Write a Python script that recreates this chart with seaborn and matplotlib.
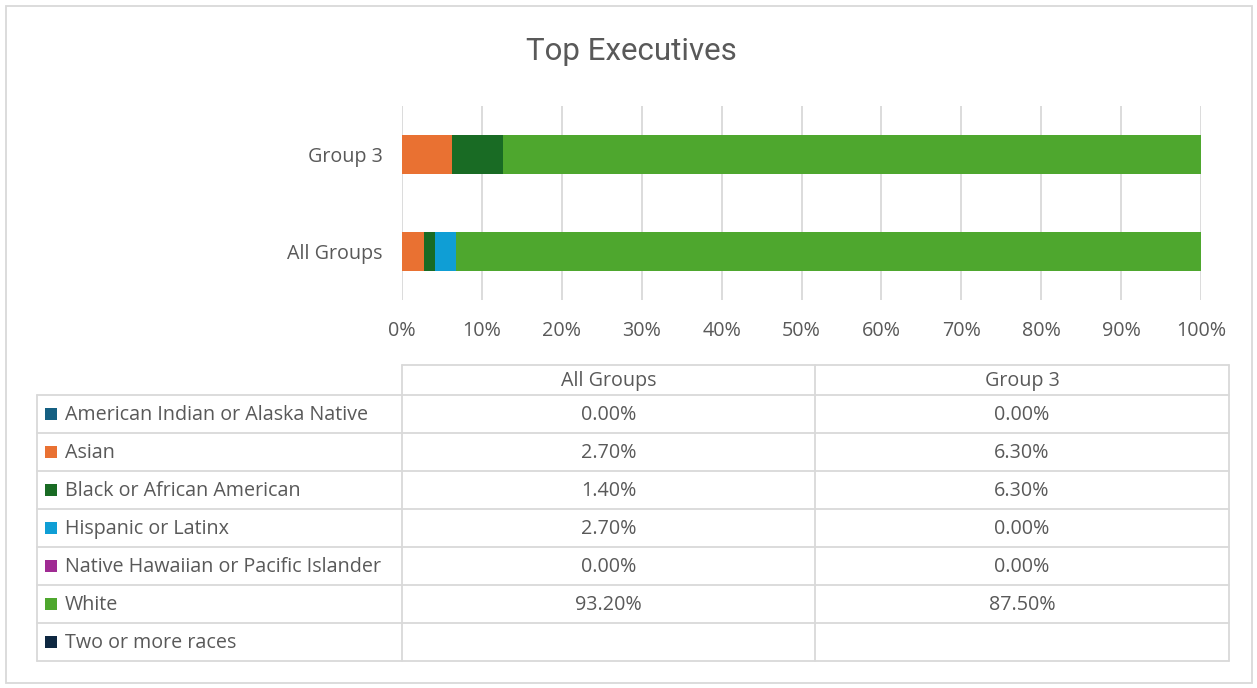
import matplotlib
matplotlib.use("Agg")
import matplotlib.pyplot as plt
import numpy as np
import pandas as pd
import seaborn as sns

# data
groups = ["All Groups", "Group 3"]
races = [
    "American Indian or Alaska Native",
    "Asian",
    "Black or African American",
    "Hispanic or Latinx",
    "Native Hawaiian or Pacific Islander",
    "White",
    "Two or more races",
]
all_groups_pct = [0.0, 2.7, 1.4, 2.7, 0.0, 93.2, None]
group3_pct = [0.0, 6.3, 6.3, 0.0, 0.0, 87.5, None]
race_colors = ["#156082", "#E97132", "#196B24", "#0F9ED5", "#A02B93", "#4EA72E", "#0E2841"]
tick_values = list(range(0, 101, 10))

TXT = "#595959"
GRID = "#D9D9D9"
W, H = 1257, 688
FS = 14.2

sns.set_theme(style="white")
plt.rcParams["font.family"] = ["Open Sans", "DejaVu Sans"]

values = {"All Groups": all_groups_pct, "Group 3": group3_pct}
rows = []
for g in groups:
    cum = 0.0
    for race, v in zip(races, values[g]):
        cum += v or 0.0
        rows.append({"group": g, "race": race, "cum": cum})
df = pd.DataFrame(rows)

fig = plt.figure(figsize=(W / 100, H / 100), dpi=100)

# chart area in pixel terms: x 402..1201, y 106..300
ax = fig.add_axes([402 / W, 1 - 300 / H, (1201 - 402) / W, (300 - 106) / H])
order = ["Group 3", "All Groups"]
for race, color in reversed(list(zip(races, race_colors))):
    sub = df[df["race"] == race]
    sns.barplot(data=sub, x="cum", y="group", order=order, color=color,
                width=0.41, saturation=1, linewidth=0, ax=ax)
ax.set_xlim(0, 100)
ax.set_xticks(tick_values)
ax.set_xticklabels([f"{t}%" for t in tick_values])
ax.xaxis.grid(True, color=GRID, linewidth=1.3)
ax.set_axisbelow(True)
for s in ax.spines.values():
    s.set_visible(False)
ax.set_xlabel("")
ax.set_ylabel("")
ax.tick_params(axis="x", colors=TXT, labelsize=FS, length=0, pad=15)
ax.tick_params(axis="y", colors=TXT, labelsize=FS, length=0, pad=14)

# overlay for title, border and the data table
ov = fig.add_axes([0, 0, 1, 1], zorder=-1)
ov.set_xlim(0, W)
ov.set_ylim(H, 0)
ov.axis("off")
ov.add_patch(plt.Rectangle((5.5, 5.5), W - 11, H - 11, fill=False,
                           edgecolor=GRID, linewidth=1.3))
fig.text(631 / W, 1 - 52 / H, "Top Executives", ha="center", va="center",
         fontsize=22.5, color=TXT, family=["Roboto", "DejaVu Sans"])

lx, c1, c2, rx = 37, 402, 815, 1229
head_top, head_bot = 365, 395
row_h = 38.0
tab_bot = head_bot + row_h * len(races)
lw = 1.3
# header box
ov.plot([c1, rx], [head_top, head_top], color=GRID, lw=lw)
for x in (c1, c2, rx):
    ov.plot([x, x], [head_top, tab_bot], color=GRID, lw=lw)
ov.plot([lx, lx], [head_bot, tab_bot], color=GRID, lw=lw)
for i in range(len(races) + 1):
    y = head_bot + i * row_h
    ov.plot([lx, rx], [y, y], color=GRID, lw=lw)
for x0, x1, g in ((c1, c2, "All Groups"), (c2, rx, "Group 3")):
    ov.text((x0 + x1) / 2, (head_top + head_bot) / 2 + 1, g, ha="center", va="center",
            fontsize=FS, color=TXT)
for i, (race, color) in enumerate(zip(races, race_colors)):
    yc = head_bot + (i + 0.5) * row_h
    ov.add_patch(plt.Rectangle((45, yc - 6), 12, 12, color=color, linewidth=0))
    ov.text(65, yc + 1, race, ha="left", va="center", fontsize=FS, color=TXT)
    for x0, x1, g in ((c1, c2, "All Groups"), (c2, rx, "Group 3")):
        v = values[g][i]
        if v is not None:
            ov.text((x0 + x1) / 2, yc + 1, f"{v:.2f}%", ha="center", va="center",
                    fontsize=FS, color=TXT)

fig.savefig("out.png", dpi=100, facecolor="white")
